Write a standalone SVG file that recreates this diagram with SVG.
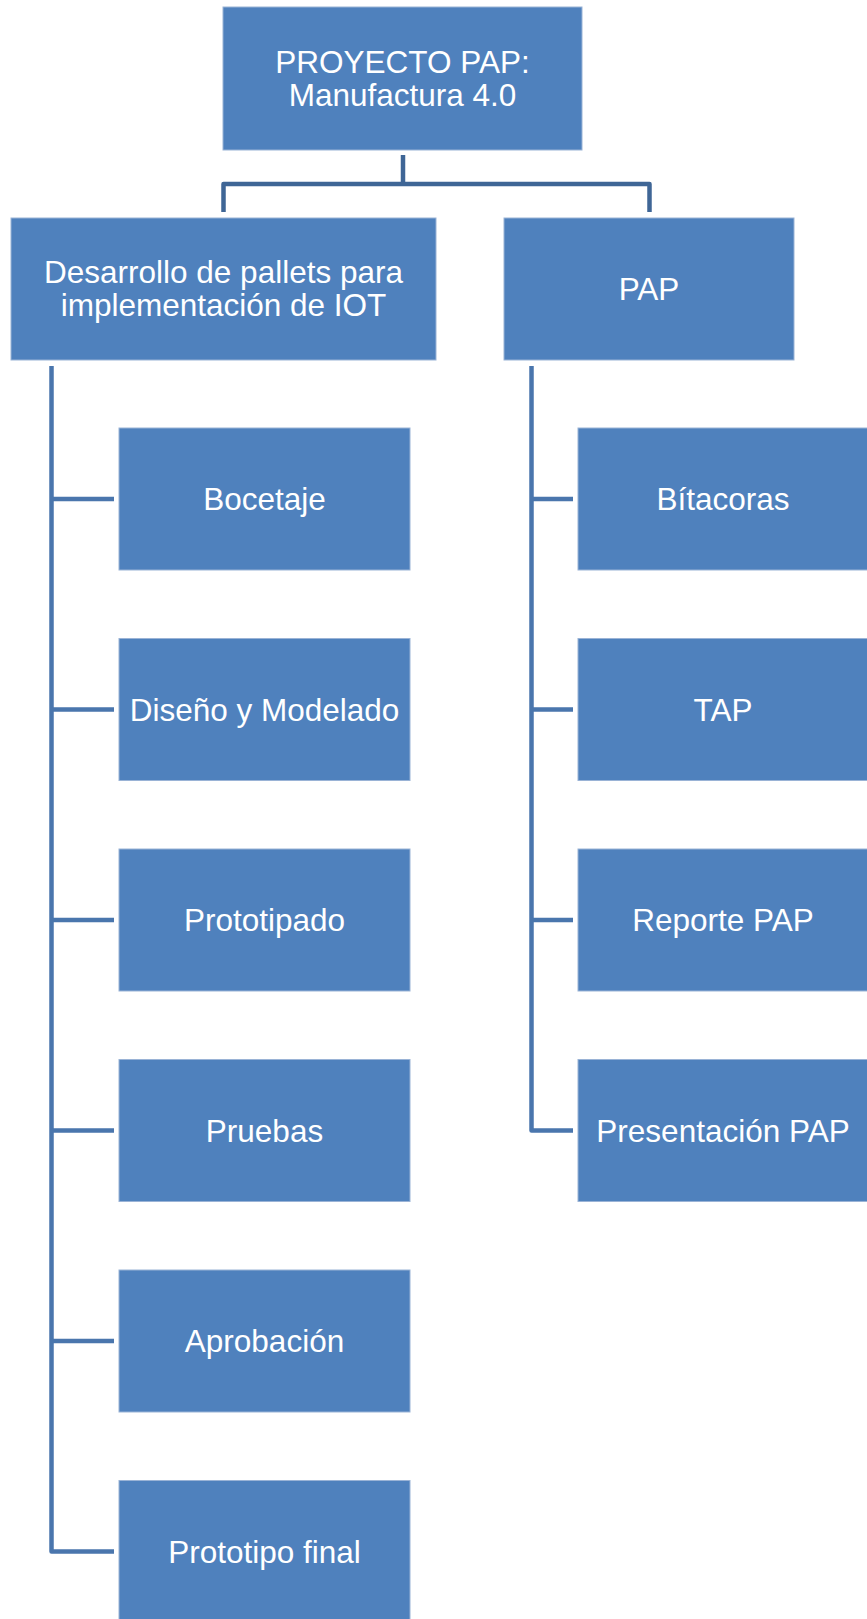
<svg xmlns="http://www.w3.org/2000/svg" width="867" height="1619" viewBox="0 0 867 1619">
<style>
.box{fill:#4F81BD;stroke:#9AB3D6;stroke-width:1}
.t{font-family:"Liberation Sans",Arial,sans-serif;font-size:31.5px;fill:#FFFFFF;text-anchor:middle}
.c1{fill:none;stroke:#3F6696;stroke-width:4.5;stroke-linejoin:round}
.c2{fill:none;stroke:#4A76AD;stroke-width:4.5;stroke-linejoin:round}
</style>
<rect width="867" height="1619" fill="#FFFFFF"/>
<g id="connectors">
<path class="c1" d="M403 155 V184"/>
<path class="c1" d="M223.5 212 V184 H649.5 V212"/>
<path class="c2" d="M51.5 366 V1551.5 H114"/>
<path class="c2" d="M51.5 499 H114 M51.5 709.5 H114 M51.5 920 H114 M51.5 1130.5 H114 M51.5 1341 H114"/>
<path class="c2" d="M531.5 366 V1130.5 H573"/>
<path class="c2" d="M531.5 499 H573 M531.5 709.5 H573 M531.5 920 H573"/>
</g>
<g id="root"><rect class="box" x="223" y="7" width="359" height="143"/><text class="t" x="402.5" y="73">PROYECTO PAP:</text><text class="t" x="402.5" y="106">Manufactura 4.0</text></g>
<g id="desarrollo"><rect class="box" x="11" y="218" width="425" height="142"/><text class="t" x="223.5" y="283">Desarrollo de pallets para</text><text class="t" x="223.5" y="316">implementación de IOT</text></g>
<g id="pap"><rect class="box" x="504" y="218" width="290" height="142"/><text class="t" x="649" y="299.5">PAP</text></g>
<g id="bocetaje"><rect class="box" x="119" y="428" width="291" height="142"/><text class="t" x="264.5" y="510">Bocetaje</text></g>
<g id="diseno"><rect class="box" x="119" y="638.5" width="291" height="142"/><text class="t" x="264.5" y="720.5">Diseño y Modelado</text></g>
<g id="prototipado"><rect class="box" x="119" y="849" width="291" height="142"/><text class="t" x="264.5" y="931">Prototipado</text></g>
<g id="pruebas"><rect class="box" x="119" y="1059.5" width="291" height="142"/><text class="t" x="264.5" y="1141.5">Pruebas</text></g>
<g id="aprobacion"><rect class="box" x="119" y="1270" width="291" height="142"/><text class="t" x="264.5" y="1352">Aprobación</text></g>
<g id="prototipo-final"><rect class="box" x="119" y="1480.5" width="291" height="142"/><text class="t" x="264.5" y="1562.5">Prototipo final</text></g>
<g id="bitacoras"><rect class="box" x="578" y="428" width="291" height="142"/><text class="t" x="723" y="510">Bítacoras</text></g>
<g id="tap"><rect class="box" x="578" y="638.5" width="291" height="142"/><text class="t" x="723" y="720.5">TAP</text></g>
<g id="reporte"><rect class="box" x="578" y="849" width="291" height="142"/><text class="t" x="723" y="931">Reporte PAP</text></g>
<g id="presentacion"><rect class="box" x="578" y="1059.5" width="291" height="142"/><text class="t" x="723" y="1141.5">Presentación PAP</text></g>
</svg>
